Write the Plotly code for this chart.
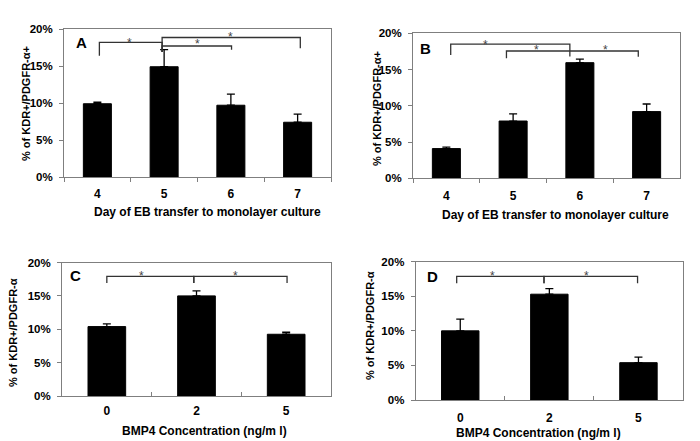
import plotly.graph_objs as go

# the page body adds an 8px margin, so the figure is drawn 8px smaller
OFF = 8
W, H = 700 - OFF, 441 - OFF

days = ['4', '5', '6', '7']
bmp4 = ['0', '2', '5']
pct_ticks = [0, 5, 10, 15, 20]
pct_labels = ['0%', '5%', '10%', '15%', '20%']

mean_a = [9.9, 14.9, 9.7, 7.4]
err_a = [0.2, 2.3, 1.5, 1.1]
mean_b = [4.1, 7.9, 15.95, 9.2]
err_b = [0.2, 1.0, 0.5, 1.05]
mean_c = [10.4, 15.0, 9.25]
err_c = [0.4, 0.75, 0.3]
mean_d = [10.0, 15.3, 5.4]
err_d = [1.7, 0.8, 0.8]

# significance brackets: (x left, x right, y top, y left leg end, y right leg end)
sig_a = [(0.03, 0.97, 18.2, 16.4, 16.9), (0.97, 3.04, 18.85, 16.9, 17.4), (0.97, 2.01, 17.7, 16.9, 17.2)]
sig_b = [(0.065, 1.85, 18.5, 17.0, 16.8), (0.90, 2.875, 17.56, 16.55, 16.77)]
sig_c = [(0.0, 0.97, 17.93, 16.93, 16.93), (0.97, 2.01, 17.93, 16.93, 16.93)]
sig_d = [(-0.04, 0.94, 17.89, 16.88, 16.88), (0.94, 1.99, 17.89, 16.88, 16.88)]
stars_a = [(0.48, 18.5), (1.50, 18.4), (1.99, 19.3)]
stars_b = [(0.59, 18.84), (1.35, 18.07), (2.38, 18.07)]
stars_c = [(0.39, 18.43), (1.44, 18.43)]
stars_d = [(0.36, 18.37), (1.42, 18.37)]

FONT = 'Liberation Sans'


def fx(x):
    return (x - OFF) / W


def fy(y):
    return 1 - (y - OFF) / H


def px(x0, x1):
    return [fx(x0), fx(x1)]


def py(top, bottom):
    return [fy(bottom), fy(top)]


def bold(s):
    return f'<b>{s}</b>'


panels = [
    dict(cats=days, mean=mean_a, err=err_a, sig=sig_a, stars=stars_a, letter='A',
         xd=px(64, 331), yd=py(29, 177), letter_at=(81, 43),
         ytitle='% of KDR+/PDGFR-α+', ytitle_at=(26, 104),
         xtitle='Day of EB transfer to monolayer culture', xtitle_at=(207, 212),
         xtick='outside', standoff=6),
    dict(cats=days, mean=mean_b, err=err_b, sig=sig_b, stars=stars_b, letter='B',
         xd=px(413, 680), yd=py(33.3, 178.3), letter_at=(425, 48),
         ytitle='% of KDR+/PDGFR-α+', ytitle_at=(377, 109),
         xtitle='Day of EB transfer to monolayer culture', xtitle_at=(555, 215),
         xtick='outside', standoff=6),
    dict(cats=bmp4, mean=mean_c, err=err_c, sig=sig_c, stars=stars_c, letter='C',
         xd=px(62, 331), yd=py(262.5, 396), letter_at=(75, 275),
         ytitle='% of KDR+/PDGFR-α', ytitle_at=(13, 333),
         xtitle='BMP4 Concentration (ng/m l)', xtitle_at=(204, 431),
         xtick='inside', standoff=4),
    dict(cats=bmp4, mean=mean_d, err=err_d, sig=sig_d, stars=stars_d, letter='D',
         xd=px(415.7, 683), yd=py(261.7, 400), letter_at=(432, 276),
         ytitle='% of KDR+/PDGFR-α', ytitle_at=(370, 326),
         xtitle='BMP4 Concentration (ng/m l)', xtitle_at=(538, 433),
         xtick='inside', standoff=7),
]

fig = go.Figure()
shapes, annots = [], []
layout = dict(
    width=W, height=H, margin=dict(l=0, r=0, t=0, b=0, autoexpand=False),
    paper_bgcolor='white', plot_bgcolor='white', showlegend=False,
    bargap=0.58, font=dict(family=FONT, color='black'),
)

for i, p in enumerate(panels, start=1):
    xa = 'x' if i == 1 else f'x{i}'
    ya = 'y' if i == 1 else f'y{i}'
    fig.add_trace(go.Bar(
        x=p['cats'], y=p['mean'], xaxis=xa, yaxis=ya,
        marker=dict(color='black', line=dict(color='black', width=1)),
        error_y=dict(type='data', symmetric=False, array=p['err'],
                     arrayminus=[0] * len(p['err']),
                     color='black', thickness=1.3, width=4),
    ))
    layout['xaxis' if i == 1 else f'xaxis{i}'] = dict(
        domain=p['xd'], anchor=ya, type='category', tickson='boundaries',
        tickvals=p['cats'], ticktext=[bold(c) for c in p['cats']],
        showline=True, mirror=True, linecolor='#7f7f7f', linewidth=1,
        ticks=p['xtick'], ticklen=4, tickcolor='#7f7f7f', showgrid=False,
        tickfont=dict(size=12, family=FONT, color='black'), automargin=False,
        ticklabelstandoff=p['standoff'], fixedrange=True,
    )
    layout['yaxis' if i == 1 else f'yaxis{i}'] = dict(
        domain=p['yd'], anchor=xa, range=[0, 20],
        tickvals=pct_ticks, ticktext=[bold(t) for t in pct_labels],
        showline=True, mirror=True, linecolor='#7f7f7f', linewidth=1,
        ticks='outside', ticklen=4, tickcolor='#7f7f7f', showgrid=False, zeroline=False,
        tickfont=dict(size=11.5, family=FONT, color='black'), automargin=False,
        ticklabelstandoff=4, fixedrange=True,
    )
    for x0, x1, yt, yl, yr in p['sig']:
        path = f'M {x0},{yl} L {x0},{yt} L {x1},{yt} L {x1},{yr}'
        shapes.append(dict(type='path', path=path, xref=xa, yref=ya,
                           line=dict(color='#333333', width=1.3)))
    for sx, sy in p['stars']:
        annots.append(dict(x=sx, y=sy, xref=xa, yref=ya, text='*', showarrow=False,
                           xanchor='center', yanchor='middle', yshift=-3,
                           font=dict(size=12, family=FONT, color='#444444')))
    lx, ly = p['letter_at']
    annots.append(dict(x=fx(lx), y=fy(ly), xref='paper', yref='paper', text=bold(p['letter']),
                       xanchor='center', yanchor='middle', showarrow=False,
                       font=dict(size=15, family=FONT)))
    tx, ty = p['ytitle_at']
    annots.append(dict(x=fx(tx), y=fy(ty), xref='paper', yref='paper', text=bold(p['ytitle']),
                       xanchor='center', yanchor='middle', textangle=-90, showarrow=False,
                       font=dict(size=11, family=FONT)))
    tx, ty = p['xtitle_at']
    annots.append(dict(x=fx(tx), y=fy(ty), xref='paper', yref='paper', text=bold(p['xtitle']),
                       xanchor='center', yanchor='middle', showarrow=False,
                       font=dict(size=12, family=FONT)))

layout['shapes'] = shapes
layout['annotations'] = annots
fig.update_layout(**layout)
fig.write_html('out.html')
